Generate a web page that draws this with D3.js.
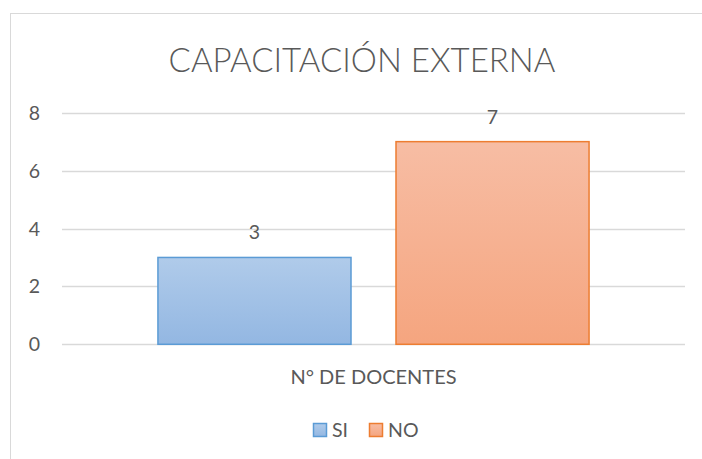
<!DOCTYPE html>
<html lang="es">
<head>
<meta charset="UTF-8">
<title>Capacitación externa</title>
<script src="https://d3js.org/d3.v7.min.js"></script>
<style>
  body { margin: 0; background: #fff; }
  svg { display: block; }
  text { font-family: Lato, "Open Sans", sans-serif; fill: #595959; }
</style>
</head>
<body>
<svg id="chart" width="702" height="459"></svg>
<script>
// data
const categories = ["N° DE DOCENTES"];
const series = ["SI", "NO"];
const values = [3, 7];
const yTicks = [0, 2, 4, 6, 8];

const colors = {
  SI: { top: "#b0cbea", bottom: "#93b7e2", stroke: "#5b9bd5" },
  NO: { top: "#f7bda4", bottom: "#f5a57f", stroke: "#ed7d31" }
};

const svg = d3.select("#chart");
const plot = { left: 62, right: 685, top: 112.7, bottom: 344.3 };

// frame of the chart area (runs off the right and bottom edge)
svg.append("rect")
  .attr("x", 10.5).attr("y", 13.5)
  .attr("width", 720).attr("height", 480)
  .attr("fill", "none").attr("stroke", "#d9d9d9");

// gradients for the bars
const defs = svg.append("defs");
series.forEach(s => {
  const g = defs.append("linearGradient")
    .attr("id", "grad-" + s)
    .attr("x1", 0).attr("y1", 0).attr("x2", 0).attr("y2", 1);
  g.append("stop").attr("offset", "0%").attr("stop-color", colors[s].top);
  g.append("stop").attr("offset", "100%").attr("stop-color", colors[s].bottom);
});

const y = d3.scaleLinear().domain([0, 8]).range([plot.bottom, plot.top]);
const x0 = d3.scaleBand().domain(categories).range([plot.left, plot.right]).padding(0);
const x1 = d3.scaleBand().domain(series).range([0, x0.bandwidth()])
  .paddingInner(0.189).paddingOuter(0.403);

// title
svg.append("text")
  .attr("x", 362).attr("y", 72)
  .attr("text-anchor", "middle")
  .attr("font-size", 33)
  .style("font-weight", 300)
  .text("CAPACITACIÓN EXTERNA");

// gridlines
svg.append("g").selectAll("line")
  .data(yTicks)
  .join("line")
  .attr("x1", plot.left).attr("x2", plot.right)
  .attr("y1", d => Math.round(y(d)) + 0.5).attr("y2", d => Math.round(y(d)) + 0.5)
  .attr("stroke", "#d9d9d9").attr("stroke-width", 1.3);

// y tick labels
svg.append("g").selectAll("text")
  .data(yTicks)
  .join("text")
  .attr("x", 40).attr("y", d => y(d) + 7)
  .attr("text-anchor", "end")
  .attr("font-size", 19.5)
  .text(d => d);

// bars
const groups = svg.append("g").selectAll("g")
  .data(categories)
  .join("g")
  .attr("transform", d => `translate(${x0(d)},0)`);

const barData = series.map((s, i) => ({ s, v: values[i] }));

groups.selectAll("rect")
  .data(barData)
  .join("rect")
  .attr("x", d => x1(d.s))
  .attr("y", d => y(d.v))
  .attr("width", x1.bandwidth())
  .attr("height", d => y(0) - y(d.v))
  .attr("fill", d => `url(#grad-${d.s})`)
  .attr("stroke", d => colors[d.s].stroke)
  .attr("stroke-width", 1.5);

// value labels
groups.selectAll("text.val")
  .data(barData)
  .join("text")
  .attr("class", "val")
  .attr("x", d => x1(d.s) + x1.bandwidth() / 2)
  .attr("y", d => y(d.v) - 18)
  .attr("text-anchor", "middle")
  .attr("font-size", 19.5)
  .text(d => d.v);

// category label
svg.append("g").selectAll("text")
  .data(categories)
  .join("text")
  .attr("x", d => x0(d) + x0.bandwidth() / 2)
  .attr("y", 384)
  .attr("text-anchor", "middle")
  .attr("font-size", 20)
  .text(d => d);

// legend
const legendX = [313, 369];
const legend = svg.append("g").selectAll("g")
  .data(series)
  .join("g")
  .attr("transform", (d, i) => `translate(${legendX[i]},423)`);

legend.append("rect")
  .attr("x", 0.5).attr("y", 0.5)
  .attr("width", 13).attr("height", 13)
  .attr("fill", d => `url(#grad-${d})`)
  .attr("stroke", d => colors[d].stroke)
  .attr("stroke-width", 1.5);

legend.append("text")
  .attr("x", 19).attr("y", 14)
  .attr("font-size", 19.5)
  .text(d => d);
</script>
</body>
</html>
